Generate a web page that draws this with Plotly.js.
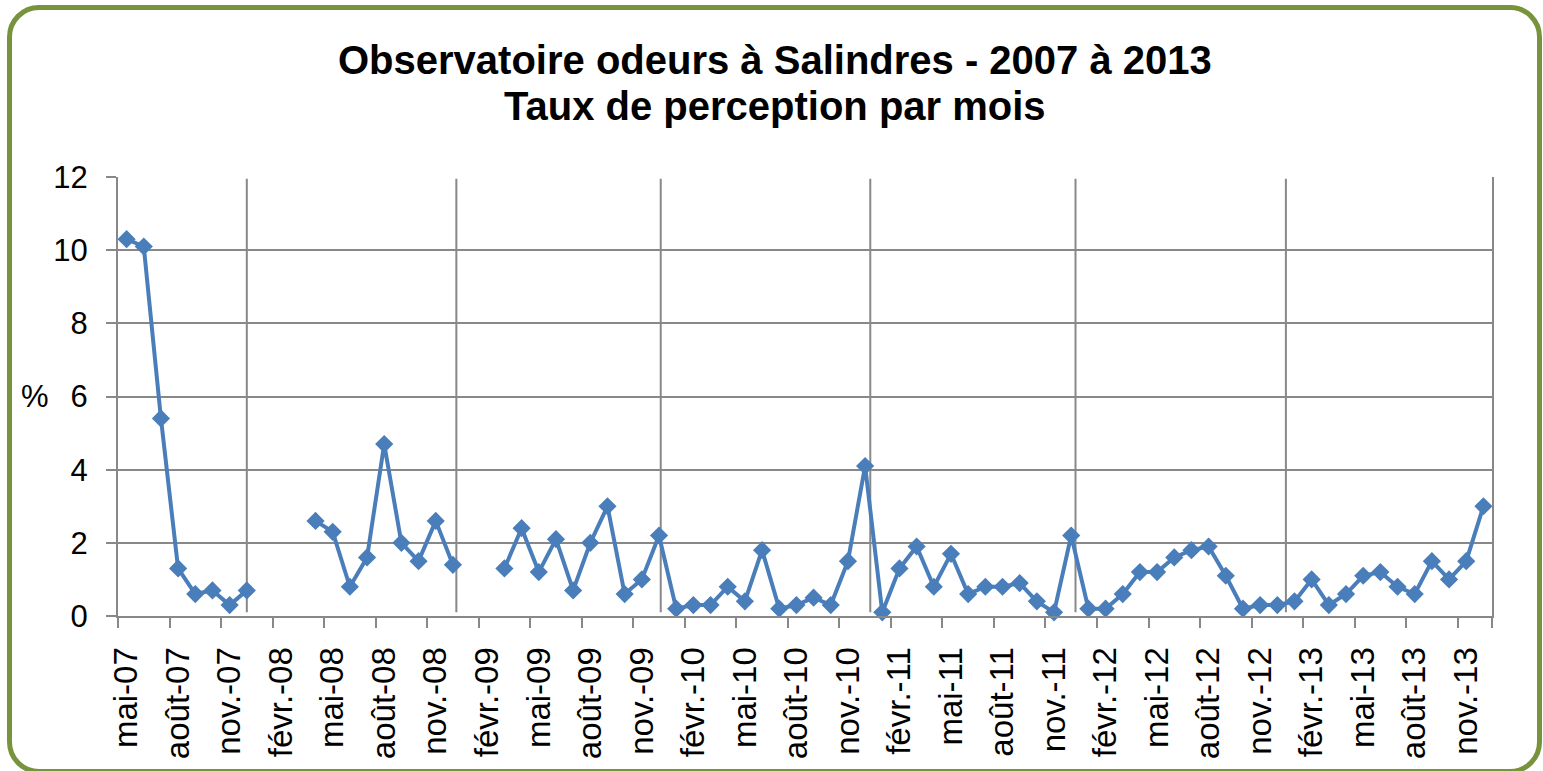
<!DOCTYPE html>
<html>
<head>
<meta charset="utf-8">
<script src="https://cdn.plot.ly/plotly-3.0.1.min.js"></script>
<style>
  html, body { margin: 0; padding: 0; background: #fff; }
  #wrap { position: relative; width: 1543px; height: 771px; overflow: hidden; }
  #chart { width: 1543px; height: 771px; }
  #frame { position: absolute; left: 7px; top: 5px; width: 1535px; height: 769px;
           border: 5px solid #77933C; border-radius: 32px; box-sizing: border-box; pointer-events: none; }
</style>
</head>
<body>
<div id="wrap">
  <div id="chart"></div>
  <div id="frame"></div>
</div>
<script>
// Months (categories), May 2007 to December 2013
const months = [
  'mai-07','juin-07','juil.-07','août-07','sept.-07','oct.-07','nov.-07','déc.-07',
  'janv.-08','févr.-08','mars-08','avr.-08','mai-08','juin-08','juil.-08','août-08','sept.-08','oct.-08','nov.-08','déc.-08',
  'janv.-09','févr.-09','mars-09','avr.-09','mai-09','juin-09','juil.-09','août-09','sept.-09','oct.-09','nov.-09','déc.-09',
  'janv.-10','févr.-10','mars-10','avr.-10','mai-10','juin-10','juil.-10','août-10','sept.-10','oct.-10','nov.-10','déc.-10',
  'janv.-11','févr.-11','mars-11','avr.-11','mai-11','juin-11','juil.-11','août-11','sept.-11','oct.-11','nov.-11','déc.-11',
  'janv.-12','févr.-12','mars-12','avr.-12','mai-12','juin-12','juil.-12','août-12','sept.-12','oct.-12','nov.-12','déc.-12',
  'janv.-13','févr.-13','mars-13','avr.-13','mai-13','juin-13','juil.-13','août-13','sept.-13','oct.-13','nov.-13','déc.-13'
];

// Perception rate (%) per month; null = no observation
const rate = [
  10.3, 10.1, 5.4, 1.3, 0.6, 0.7, 0.3, 0.7,
  null, null, null, 2.6, 2.3, 0.8, 1.6, 4.7, 2.0, 1.5, 2.6, 1.4,
  null, null, 1.3, 2.4, 1.2, 2.1, 0.7, 2.0, 3.0, 0.6, 1.0, 2.2,
  0.2, 0.3, 0.3, 0.8, 0.4, 1.8, 0.2, 0.3, 0.5, 0.3, 1.5, 4.1,
  0.1, 1.3, 1.9, 0.8, 1.7, 0.6, 0.8, 0.8, 0.9, 0.4, 0.1, 2.2,
  0.2, 0.2, 0.6, 1.2, 1.2, 1.6, 1.8, 1.9, 1.1, 0.2, 0.3, 0.3,
  0.4, 1.0, 0.3, 0.6, 1.1, 1.2, 0.8, 0.6, 1.5, 1.0, 1.5, 3.0
];

// Year separators (hand-drawn vertical lines in the original)
const yearSeparators = [7, 19.2, 31.1, 43.3, 55.25, 67.5];

const yTicks = [0, 2, 4, 6, 8, 10, 12];
const titleLines = ['Observatoire odeurs à Salindres - 2007 à 2013', 'Taux de perception par mois'];

const idx = months.map((m, i) => i);
const labelIdx = idx.filter(i => i % 3 === 0);
const labelText = labelIdx.map(i => months[i]);
const boundaryTicks = idx.filter(i => i % 3 === 0).map(i => i - 0.5).concat([months.length - 0.5]);

const gridColor = '#888888';
const font = 'Liberation Sans, Arial, sans-serif';

const trace = {
  x: idx,
  y: rate,
  text: months,
  type: 'scatter',
  mode: 'lines+markers',
  connectgaps: false,
  line: { color: '#4A7EBB', width: 4 },
  marker: { symbol: 'diamond', size: 14, color: '#4A7EBB' },
  hovertemplate: '%{text}: %{y}%<extra></extra>',
  cliponaxis: false
};

const shapes = yearSeparators.map(v => ({
  type: 'line', xref: 'x', yref: 'y', x0: v, x1: v, y0: 0.1, y1: 11.95,
  line: { color: gridColor, width: 2 }, layer: 'below'
}));

// pixel -> paper y helper for the plot area (top 177, bottom 616.3)
const pyToPaper = py => (616.3 - py) / (616.3 - 177);

const layout = {
  width: 1543, height: 771,
  margin: { l: 118, r: 51, t: 177, b: 155 },
  paper_bgcolor: '#ffffff', plot_bgcolor: '#ffffff',
  showlegend: false,
  font: { family: font, color: '#000000' },
  xaxis: {
    type: 'linear',
    range: [-0.5, months.length - 0.5],
    tickmode: 'array', tickvals: labelIdx, ticktext: labelText,
    tickangle: -90, ticks: '',
    tickfont: { family: font, size: 33, color: '#000000' },
    showgrid: false, zeroline: false,
    showline: true, linecolor: gridColor, linewidth: 2,
    minor: { tickmode: 'array', tickvals: boundaryTicks, ticks: 'outside', ticklen: 10, tickwidth: 2, tickcolor: gridColor, showgrid: false },
    ticklabelstandoff: 16,
    fixedrange: true
  },
  yaxis: {
    range: [0, 12],
    tickmode: 'array', tickvals: yTicks,
    ticks: 'outside', ticklen: 10, tickwidth: 2, tickcolor: gridColor,
    tickfont: { family: font, size: 31, color: '#000000' },
    showgrid: true, gridcolor: gridColor, gridwidth: 2,
    zeroline: false,
    showline: true, linecolor: gridColor, linewidth: 2, mirror: true,
    ticklabelstandoff: 12,
    fixedrange: true
  },
  shapes: shapes,
  annotations: [
    {
      text: '%', xref: 'paper', yref: 'y', x: (35 - 118) / 1374, y: 6,
      xanchor: 'center', yanchor: 'middle', showarrow: false,
      font: { family: font, size: 31, color: '#000000' }
    },
    {
      text: '<b>' + titleLines[0] + '</b>', xref: 'paper', yref: 'paper',
      x: (775 - 118) / 1374, y: pyToPaper(60), xanchor: 'center', yanchor: 'middle', showarrow: false,
      font: { family: font, size: 40, color: '#000000' }
    },
    {
      text: '<b>' + titleLines[1] + '</b>', xref: 'paper', yref: 'paper',
      x: (775 - 118) / 1374, y: pyToPaper(106), xanchor: 'center', yanchor: 'middle', showarrow: false,
      font: { family: font, size: 40, color: '#000000' }
    }
  ]
};

Plotly.newPlot('chart', [trace], layout, { displayModeBar: false, staticPlot: true });
</script>
</body>
</html>
